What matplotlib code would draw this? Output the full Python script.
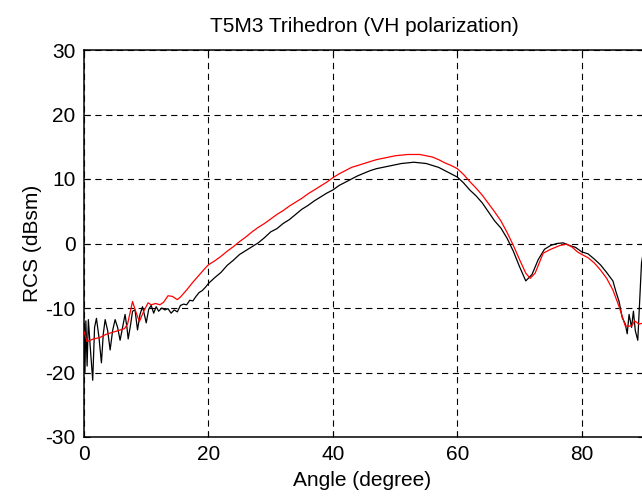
import matplotlib
matplotlib.use("Agg")
import matplotlib.pyplot as plt

plt.rcParams['font.family'] = ['Liberation Sans', 'DejaVu Sans']
plt.rcParams['lines.scale_dashes'] = False
plt.rcParams['axes.unicode_minus'] = False

title = "T5M3 Trihedron (VH polarization)"
xlabel = "Angle (degree)"
ylabel = "RCS (dBsm)"
xticks = [0, 20, 40, 60, 80]
yticks = [-30, -20, -10, 0, 10, 20, 30]

# Measured (black)
meas_angle = [0.0, 0.15, 0.3, 0.5, 0.7, 1.0, 1.4, 1.7, 2.0, 2.4, 2.8, 3.1, 3.4, 3.8, 4.2, 4.6,
              5.0, 5.4, 5.8, 6.2, 6.6, 6.9, 7.1, 7.5, 7.8, 8.2, 8.6, 9.0, 9.4, 9.7, 10.0, 10.4,
              10.8, 11.2, 11.6, 12.0, 12.5, 13.0, 13.5, 14.0, 14.5, 15.0, 15.5, 16.0, 16.5, 17.0,
              17.5, 18.0, 18.5, 19.0, 19.5, 20.0, 21, 22, 23, 24, 25, 26, 27, 28, 29, 30, 31, 32,
              33, 34, 35, 36, 37, 38, 39, 40, 41, 42, 43, 44, 45, 46, 47, 48, 49, 50, 51, 52, 53,
              54, 55, 56, 57, 58, 59, 60, 61, 62, 63, 64, 65, 66, 67, 68, 69, 70, 71, 71.5, 72,
              73, 74, 75, 76, 77, 78, 79, 80, 81, 82, 83, 84, 85, 85.5, 86, 86.5, 87, 87.3, 87.6,
              88, 88.3, 88.6, 89.0, 89.3, 89.6, 90.0]
meas_rcs = [-13.0, -20.0, -12.0, -19.0, -11.8, -16.0, -21.2, -13.0, -11.6, -14.5, -18.5, -14.0,
            -11.8, -13.5, -16.5, -13.5, -11.8, -13.0, -15.0, -13.0, -11.0, -13.0, -14.8, -12.5,
            -10.5, -10.3, -13.4, -11.0, -9.8, -11.0, -12.3, -10.2, -9.6, -10.8, -9.8, -10.5,
            -10.0, -10.3, -10.1, -10.8, -10.3, -10.6, -9.6, -9.4, -9.5, -8.8, -8.9, -8.2, -7.6,
            -7.3, -6.8, -6.2, -5.3, -4.5, -3.4, -2.6, -1.7, -1.1, -0.5, 0.1, 0.9, 1.8, 2.3, 3.1,
            3.7, 4.5, 5.3, 5.9, 6.6, 7.2, 7.8, 8.3, 9.0, 9.5, 10.0, 10.5, 10.9, 11.3, 11.6, 11.8,
            12.0, 12.2, 12.4, 12.5, 12.6, 12.5, 12.4, 12.1, 11.8, 11.3, 10.8, 10.3, 9.4, 8.3, 7.4,
            6.3, 4.9, 3.5, 2.4, 0.8, -1.2, -3.6, -5.8, -5.3, -4.8, -2.5, -0.9, -0.3, 0.0, 0.1,
            -0.3, -0.6, -1.3, -1.6, -2.4, -3.3, -4.5, -5.8, -7.5, -9.0, -11.5, -12.5, -14.0,
            -11.0, -13.0, -10.5, -13.5, -15.0, -9.0, -3.0, -0.7]

# Simulated (red)
sim_angle = [0.0, 0.5, 1.5, 2.5, 3.5, 4.5, 5.5, 6.5, 7.0, 7.8, 8.3, 8.9, 9.6, 10.3, 10.8, 11.5,
             12.2, 12.8, 13.5, 14.2, 15.0, 15.5, 16.5, 17.5, 18.5, 19.5, 20.0, 21, 22, 23, 24,
             25, 26, 27, 28, 29, 30, 31, 32, 33, 34, 35, 36, 37, 38, 39, 40, 41, 42, 43, 44, 45,
             46, 47, 48, 49, 50, 51, 52, 53, 54, 55, 56, 57, 58, 59, 60, 61, 62, 63, 64, 65, 66,
             67, 68, 69, 70, 71, 71.7, 72.5, 73.8, 75, 76.5, 77.6, 78.5, 79.3, 80, 81, 82, 83,
             84, 85, 86, 87, 88, 88.5, 89.2, 90]
sim_rcs = [-13.7, -15.2, -14.8, -14.6, -14.1, -13.8, -13.5, -13.2, -12.5, -9.0, -10.5, -12.1,
           -10.5, -9.2, -9.5, -9.3, -9.5, -9.1, -8.1, -8.2, -8.7, -8.3, -7.2, -6.0, -4.9, -3.8,
           -3.3, -2.7, -2.0, -1.2, -0.5, 0.3, 1.0, 1.8, 2.5, 3.1, 3.8, 4.5, 5.1, 5.8, 6.4, 7.0,
           7.7, 8.3, 8.9, 9.5, 10.2, 10.8, 11.3, 11.8, 12.1, 12.4, 12.7, 13.0, 13.2, 13.4, 13.6,
           13.7, 13.8, 13.8, 13.8, 13.6, 13.4, 13.0, 12.5, 12.1, 11.6, 10.7, 9.6, 8.6, 7.5, 6.2,
           4.9, 3.5, 1.7, -0.3, -2.5, -4.6, -5.4, -4.6, -1.5, -0.9, -0.3, -0.1, -0.6, -1.3,
           -1.7, -2.2, -3.0, -4.1, -5.4, -7.2, -9.8, -12.8, -12.8, -12.0, -12.5, -12.3]

W, H = 642, 496
fig = plt.figure(figsize=(W / 100, H / 100), dpi=100)
ax = fig.add_axes([84 / W, 1 - 437 / H, 560 / W, 387 / H])

ax.plot(meas_angle, meas_rcs, color='black', lw=0.9, zorder=3)
ax.plot(sim_angle, sim_rcs, color='red', lw=0.9, zorder=4)

ax.set_xlim(0, 90)
ax.set_ylim(-30, 30)
ax.set_xticks(xticks)
ax.set_yticks(yticks)
ax.tick_params(direction='in', length=4, width=0.8, labelsize=15, colors='black',
               top=True, right=True)
ax.tick_params(axis='x', pad=6)
ax.tick_params(axis='y', pad=6)
ax.grid(True, color='black', linestyle=(0, (4.5, 3.3)), linewidth=0.8)
for s in ax.spines.values():
    s.set_linewidth(1.1)
    s.set_color('black')

fig.text(364 / W, 1 - 27 / H, title, ha='center', va='center', fontsize=15)
fig.text(362 / W, 1 - 481 / H, xlabel, ha='center', va='center', fontsize=15)
fig.text(32 / W, 1 - 243 / H, ylabel, ha='center', va='center', fontsize=15, rotation=90)

fig.savefig('out.png', dpi=100)
